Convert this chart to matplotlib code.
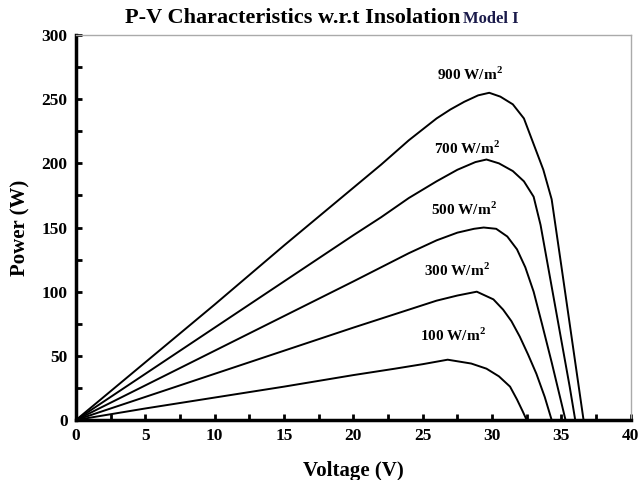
import matplotlib.pyplot as plt
from matplotlib.ticker import MultipleLocator

WIDTH_PXL = 639
HEIGHT_PXL = 480
DPI = 100
SERIF = 'Liberation Serif'

plt.rcParams['mathtext.fontset'] = 'custom'
plt.rcParams['mathtext.rm'] = 'Liberation Serif:bold'
plt.rcParams['mathtext.bf'] = 'Liberation Serif:bold'

# readings, voltage (V) and power (W)
v_900 = [0, 5, 10, 15, 20, 22, 24, 26, 27, 28, 29, 29.8, 30.6, 31.5, 32.3, 33, 33.7, 34.3, 35, 35.8, 36.6]
p_900 = [0, 45, 90, 136, 181, 199, 218, 235, 242, 248, 253, 255, 252, 246, 235, 215, 195, 172, 120, 60, 0]

v_700 = [0, 5, 10, 15, 20, 22, 24, 26, 27.5, 28.8, 29.6, 30.5, 31.5, 32.3, 33, 33.5, 34.2, 35, 35.6, 36.0]
p_700 = [0, 36, 72, 108, 144, 158, 173, 186, 195, 201, 203, 200, 194, 186, 174, 152, 110, 62, 26, 0]

v_500 = [0, 5, 10, 15, 20, 22, 24, 26, 27.5, 28.7, 29.4, 30.3, 31.1, 31.8, 32.4, 33, 33.6, 34.3, 34.9, 35.3]
p_500 = [0, 27, 54, 81, 108, 119, 130, 140, 146, 149, 150, 149, 143, 133, 119, 100, 75, 45, 18, 0]

v_300 = [0, 5, 10, 15, 20, 22, 24, 26, 27.5, 28.9, 30.1, 30.8, 31.4, 32, 32.6, 33.2, 33.8, 34.3]
p_300 = [0, 18, 36, 54, 72, 79, 86, 93, 97, 100, 94, 86, 77, 65, 51, 36, 18, 0]

v_100 = [0, 5, 10, 15, 20, 23, 25, 26.8, 28.5, 29.6, 30.5, 31.3, 31.8, 32.2, 32.5]
p_100 = [0, 9, 17.5, 26, 35, 40, 43.5, 47, 44, 40, 34, 26, 16, 7, 0]

curves = [(v_900, p_900), (v_700, p_700), (v_500, p_500), (v_300, p_300), (v_100, p_100)]
labels = ['900', '700', '500', '300', '100']
label_pos = [(28.4, 269), (28.2, 212), (28.0, 164), (27.5, 117), (27.2, 66)]

fig = plt.figure(figsize=(WIDTH_PXL / DPI, HEIGHT_PXL / DPI), dpi=DPI)
ax = fig.add_axes([0.119, 0.125, 0.868, 0.802])

for v, p in curves:
    ax.plot(v, p, color='black', linewidth=1.4)

for lab, (x, y) in zip(labels, label_pos):
    ax.text(x, y, lab + r' W/m$^{\mathrm{2}}$', ha='center', va='center',
            fontsize=11, fontweight='bold', family=SERIF)

ax.set_xlim(0, 40)
ax.set_ylim(0, 300)
ax.xaxis.set_major_locator(MultipleLocator(5))
ax.xaxis.set_minor_locator(MultipleLocator(2.5))
ax.yaxis.set_major_locator(MultipleLocator(50))
ax.yaxis.set_minor_locator(MultipleLocator(25))
ax.tick_params(which='both', direction='in', length=4, width=2,
               top=False, right=False)
ax.tick_params(which='major', labelsize=12.5, pad=6)

for t in ax.get_xticklabels() + ax.get_yticklabels():
    t.set_fontfamily(SERIF)
    t.set_fontweight('bold')

for side in ['left', 'bottom']:
    ax.spines[side].set_linewidth(2.5)
    ax.spines[side].set_color('black')
for side in ['top', 'right']:
    ax.spines[side].set_linewidth(1)
    ax.spines[side].set_color('#aaaaaa')

ax.set_xlabel('Voltage (V)', fontsize=15, fontweight='bold', family=SERIF, labelpad=12)
ax.set_ylabel('Power (W)', fontsize=15, fontweight='bold', family=SERIF, labelpad=8)

fig.text(0.72, 0.962, 'P-V Characteristics w.r.t Insolation', ha='right', va='center',
         fontsize=16, fontweight='bold', family=SERIF)
fig.text(0.725, 0.960, 'Model I', ha='left', va='center',
         fontsize=12, fontweight='bold', family=SERIF, color='#1a1a4a')

fig.savefig('out.png', dpi=DPI)
